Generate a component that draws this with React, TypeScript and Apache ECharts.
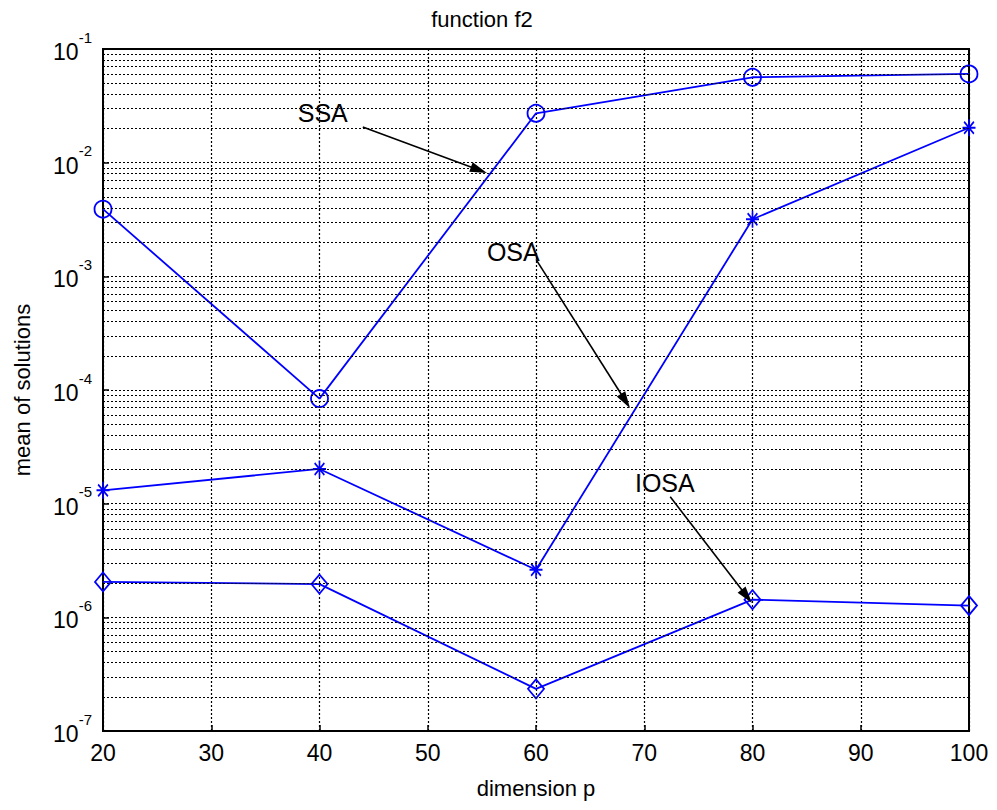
import React, { useEffect, useRef } from "react";
import * as echarts from "echarts";

const dims = [20, 40, 60, 80, 100];
const ssa = [3.9e-3, 8.4e-5, 2.72e-2, 5.64e-2, 6.03e-2];
const osa = [1.31e-5, 2.02e-5, 2.62e-6, 3.18e-3, 2.03e-2];
const iosa = [2.05e-6, 1.96e-6, 2.35e-7, 1.43e-6, 1.27e-6];

const annotLabels = ["SSA", "OSA", "IOSA"];
const annotTextPos = [
  [40.3, 0.0274],
  [57.9, 1.64e-3],
  [71.9, 1.52e-5],
];
const arrowStart = [
  [44.0, 0.0206],
  [60.0, 1.41e-3],
  [72.4, 1.15e-5],
];
// end of shaft (arrow head centre); tip lies ~8px further along the line
const arrowEnd = [
  [54.73, 8.63e-3],
  [68.27, 8.0e-5],
  [79.47, 1.53e-6],
];

const yMinExp = -7;
const yMaxExp = -1;
const minorMultipliers = [2, 3, 4, 5, 6, 7, 8, 9];

const FONT = "'Liberation Sans', Arial, sans-serif";
const BLUE = "#0000ff";

export default function App() {
  const ref = useRef<HTMLDivElement>(null);
  useEffect(() => {
    if (!ref.current) return;
    const chart = echarts.init(ref.current, undefined, { renderer: "svg" });

    const minorVals: number[] = [];
    for (let e = yMinExp; e < yMaxExp; e++) {
      for (const m of minorMultipliers) minorVals.push(m * Math.pow(10, e));
    }
    const toPairs = (arr: number[]) => dims.map((d, i) => [d, arr[i]]);
    const gridDash = { color: "#000", width: 1.2, type: [2, 2] as any };

    const option: any = {
      animation: false,
      backgroundColor: "#fff",
      title: {
        text: "function f2",
        left: 477,
        top: 3,
        textAlign: "center",
        textStyle: { fontFamily: FONT, fontSize: 22, fontWeight: "normal", color: "#000" },
      },
      grid: { left: 103, right: 28, top: 49, bottom: 79, show: true, borderColor: "#000", borderWidth: 2 },
      xAxis: {
        type: "value",
        min: 20,
        max: 100,
        interval: 10,
        name: "dimension p",
        nameLocation: "middle",
        nameGap: 46,
        nameTextStyle: { fontFamily: FONT, fontSize: 22, color: "#000" },
        axisLine: { lineStyle: { color: "#000", width: 2 } },
        axisTick: { inside: true, length: 6, lineStyle: { color: "#000", width: 1.5 } },
        axisLabel: { fontFamily: FONT, fontSize: 23, color: "#000", margin: 10 },
        splitLine: { show: true, lineStyle: gridDash },
      },
      yAxis: {
        type: "log",
        logBase: 10,
        min: Math.pow(10, yMinExp),
        max: Math.pow(10, yMaxExp),
        name: "mean of solutions",
        nameLocation: "middle",
        nameGap: 70,
        nameTextStyle: { fontFamily: FONT, fontSize: 22, color: "#000" },
        axisLine: { show: true, lineStyle: { color: "#000", width: 2 } },
        axisTick: { inside: true, length: 6, lineStyle: { color: "#000", width: 1.5 } },
        axisLabel: {
          margin: 11,
          formatter: (v: number) => `{b|10}{s|${Math.round(Math.log10(v))}}`,
          rich: {
            b: { fontFamily: FONT, fontSize: 23, color: "#000", padding: [6, 0, 0, 0] },
            s: { fontFamily: FONT, fontSize: 15, color: "#000", padding: [0, 0, 24, 0] },
          },
        },
        splitLine: { show: true, lineStyle: gridDash },
      },
      series: [
        {
          type: "line",
          name: "grid",
          data: toPairs(ssa),
          symbol: "none",
          lineStyle: { opacity: 0, width: 0 },
          z: 1,
          silent: true,
          markLine: {
            silent: true,
            precision: 12,
            symbol: "none",
            label: { show: false },
            lineStyle: gridDash,
            emphasis: { disabled: true },
            data: minorVals.map((v) => ({ yAxis: v })),
          },
        },
        {
          type: "line",
          name: "SSA",
          data: toPairs(ssa),
          symbol: "circle",
          symbolSize: 17,
          lineStyle: { color: BLUE, width: 1.8 },
          itemStyle: { color: "rgba(0,0,0,0)", borderColor: BLUE, borderWidth: 1.8 },
          z: 3,
        },
        {
          type: "line",
          name: "OSA",
          data: toPairs(osa),
          symbol: "path://M0,-10L0,10M-8,0L8,0M-6,-7L6,7M-6,7L6,-7",
          symbolSize: [13, 17],
          lineStyle: { color: BLUE, width: 1.8 },
          itemStyle: { color: BLUE, borderColor: BLUE, borderWidth: 1.8 },
          z: 3,
        },
        {
          type: "line",
          name: "IOSA",
          data: toPairs(iosa),
          symbol: "diamond",
          symbolSize: [16, 19],
          lineStyle: { color: BLUE, width: 1.8 },
          itemStyle: { color: "rgba(0,0,0,0)", borderColor: BLUE, borderWidth: 1.8 },
          z: 3,
        },
        {
          type: "line",
          name: "annotations",
          data: toPairs(ssa),
          symbol: "none",
          lineStyle: { opacity: 0, width: 0 },
          z: 4,
          silent: true,
          markLine: {
            silent: true,
            precision: 12,
            symbol: ["none", "triangle"],
            symbolSize: 12,
            label: { show: false },
            lineStyle: { color: "#000", width: 1.6, type: "solid", opacity: 1 },
            itemStyle: { color: "#000", opacity: 1 },
            emphasis: { disabled: true },
            data: annotLabels.map((_, i) => [
              { coord: arrowStart[i], symbolSize: 1 },
              { coord: arrowEnd[i], symbolSize: [10, 17] },
            ]),
          },
          markPoint: {
            silent: true,
            symbol: "circle",
            symbolSize: 0,
            label: {
              show: true,
              position: "inside",
              fontFamily: FONT,
              fontSize: 25,
              color: "#000",
              formatter: (p: any) => p.name,
            },
            data: annotLabels.map((name, i) => ({ name, coord: annotTextPos[i] })),
          },
        },
      ],
    };
    chart.setOption(option);
    return () => chart.dispose();
  }, []);
  return (
    <div
      ref={ref}
      style={{ position: "absolute", left: 0, top: 0, width: 997, height: 810, background: "#fff" }}
    />
  );
}
